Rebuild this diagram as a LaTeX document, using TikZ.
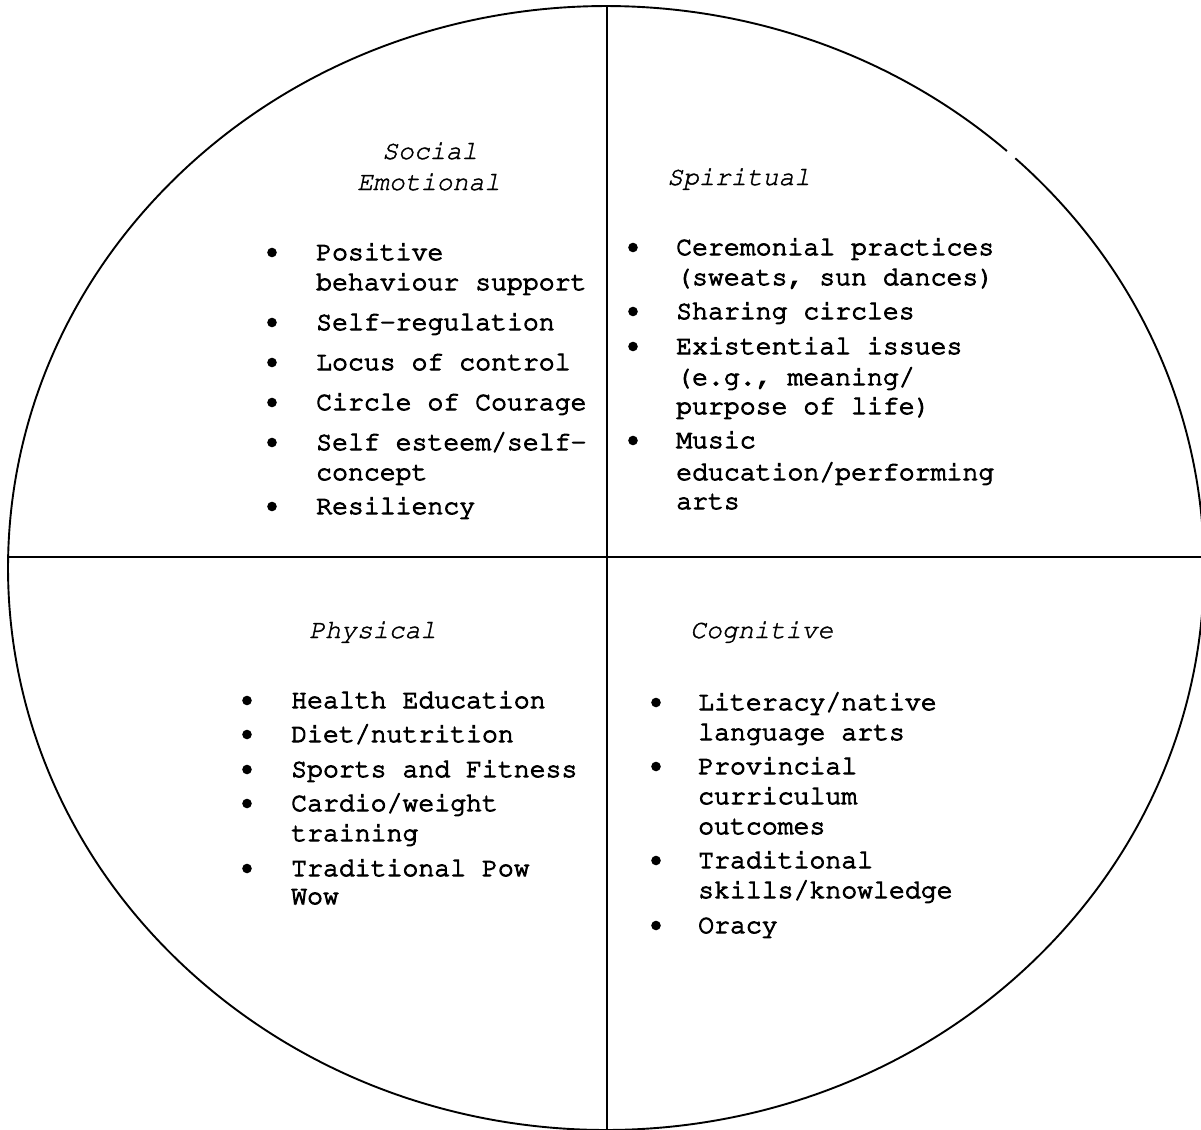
\documentclass[tikz,border=0pt]{standalone}
\usepackage[T1]{fontenc}
\usepackage{courier}
% typewriter text set with a thin outline stroke so that it reads a little heavier
\newcommand\inkytext{\special{pdf:literal direct 2 Tr 1 w}}
\newcommand\lightink{\special{pdf:literal direct 2 Tr 0.4 w}}
\begin{document}
\begin{tikzpicture}[x=1pt,y=-1pt,
  txt/.style={anchor=base west, inner sep=0pt,
    font=\fontsize{26.5}{30}\fontfamily{pcr}\selectfont\inkytext},
  head/.style={txt,
    font=\fontsize{26.5}{30}\fontfamily{pcr}\fontshape{sl}\selectfont\lightink},
  dot/.style={circle, fill=black, inner sep=0pt, minimum size=9.6pt},
  rim/.style={line width=1.9pt},
  rule/.style={line width=1.6pt}]
\useasboundingbox (0,0) rectangle (1201,1129);
\clip (0,0) rectangle (1201,1129);

% outer circle, with its small break at the upper right
\coordinate (c) at (606,568);
\draw[rim] (c) ++({598*cos(-46.8)},{562*sin(-46.8)})
  arc[start angle=-46.8, end angle=312.1, x radius=598, y radius=562];

% dividing lines
\coordinate (top) at (607,6);
\coordinate (bot) at (607,1131);
\coordinate (west) at (8,557);
\coordinate (east) at (1203,557);
\draw[rule] (top) -- (bot);
\draw[rule] (west) -- (east);

% Social / Emotional
\node[head] (seh1) at (382,159) {Social};
\node[head] (seh2) at (357,190) {Emotional};
\node[dot] (sed1) at (272,252.5) {};
\node[txt] (se1a) at (316,260) {Positive};
\node[txt] (se1b) at (316,290) {behaviour support};
\node[dot] (sed2) at (272,322.5) {};
\node[txt] (se2) at (316,330) {Self-regulation};
\node[dot] (sed3) at (272,362.5) {};
\node[txt] (se3) at (316,370) {Locus of control};
\node[dot] (sed4) at (272,402.5) {};
\node[txt] (se4) at (316,410) {Circle of Courage};
\node[dot] (sed5) at (272,442.5) {};
\node[txt] (se5a) at (316,450) {Self esteem/self-};
\node[txt] (se5b) at (316,480) {concept};
\node[dot] (sed6) at (272,506.5) {};
\node[txt] (se6) at (316,514) {Resiliency};

% Spiritual
\node[head] (sph) at (667,185) {Spiritual};
\node[dot] (spd1) at (633,247.5) {};
\node[txt] (sp1a) at (676,255) {Ceremonial practices};
\node[txt] (sp1b) at (676,285) {(sweats, sun dances)};
\node[dot] (spd2) at (633,311.5) {};
\node[txt] (sp2) at (676,319) {Sharing circles};
\node[dot] (spd3) at (633,346.5) {};
\node[txt] (sp3a) at (676,354) {Existential issues};
\node[txt] (sp3b) at (676,385) {(e.g., meaning/};
\node[txt] (sp3c) at (676,414) {purpose of life)};
\node[dot] (spd4) at (633,440.5) {};
\node[txt] (sp4a) at (676,448) {Music};
\node[txt] (sp4b) at (676,480) {education/performing};
\node[txt] (sp4c) at (676,509) {arts};

% Physical
\node[head] (phh) at (309,638) {Physical};
\node[dot] (phd1) at (247,700.5) {};
\node[txt] (ph1) at (291,708) {Health Education};
\node[dot] (phd2) at (247,734.5) {};
\node[txt] (ph2) at (291,742) {Diet/nutrition};
\node[dot] (phd3) at (247,769.5) {};
\node[txt] (ph3) at (291,777) {Sports and Fitness};
\node[dot] (phd4) at (247,803.5) {};
\node[txt] (ph4a) at (291,811) {Cardio/weight};
\node[txt] (ph4b) at (291,841) {training};
\node[dot] (phd5) at (247,868.5) {};
\node[txt] (ph5a) at (291,876) {Traditional Pow};
\node[txt] (ph5b) at (291,904) {Wow};

% Cognitive
\node[head] (cgh) at (690,638) {Cognitive};
\node[dot] (cgd1) at (656,702.5) {};
\node[txt] (cg1a) at (698,710) {Literacy/native};
\node[txt] (cg1b) at (698,740) {language arts};
\node[dot] (cgd2) at (656,766.5) {};
\node[txt] (cg2a) at (698,774) {Provincial};
\node[txt] (cg2b) at (698,804) {curriculum};
\node[txt] (cg2c) at (698,834) {outcomes};
\node[dot] (cgd3) at (656,860.5) {};
\node[txt] (cg3a) at (698,868) {Traditional};
\node[txt] (cg3b) at (698,898) {skills/knowledge};
\node[dot] (cgd4) at (656,925.5) {};
\node[txt] (cg4) at (698,933) {Oracy};
\end{tikzpicture}
\end{document}
